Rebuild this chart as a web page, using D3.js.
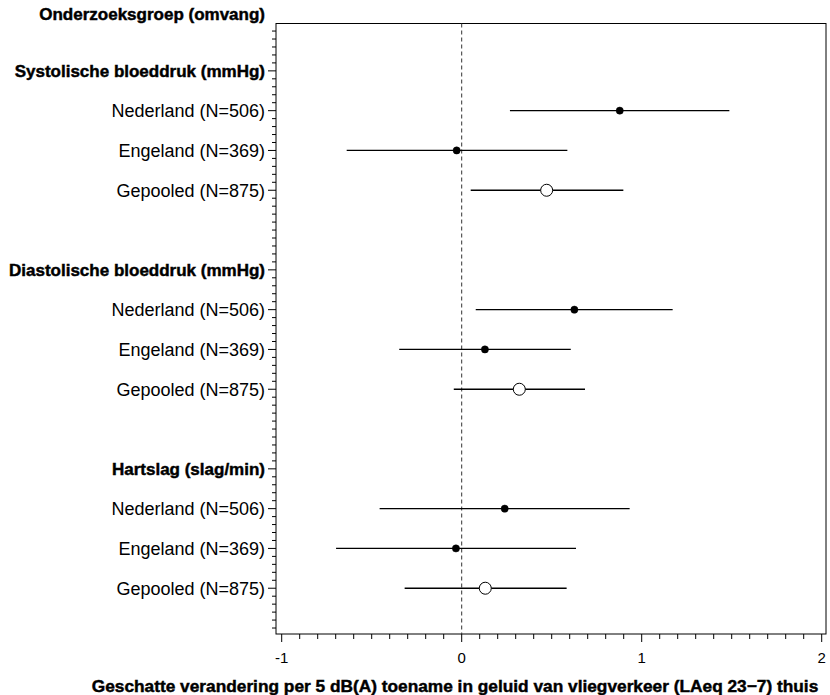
<!DOCTYPE html>
<html>
<head>
<meta charset="utf-8">
<script src="https://cdn.jsdelivr.net/npm/d3@7"></script>
<style>
  body { margin: 0; background: #fff; }
  svg { display: block; }
  text { font-family: "Liberation Sans", Arial, Helvetica, sans-serif; fill: #000; }
  .head { font-weight: bold; font-size: 17px; stroke: #000; stroke-width: 0.45px; }
  .xtitle { font-size: 17.3px; }
  .lab { font-size: 18px; }
  .tick { font-size: 15px; }
</style>
</head>
<body>
<svg id="chart" width="830" height="695"></svg>
<script>
// ---- data ----
const titleTop = "Onderzoeksgroep (omvang)";
const xTitle = "Geschatte verandering per 5 dB(A) toename in geluid van vliegverkeer (LAeq 23\u22127) thuis";
const groups = ["Systolische bloeddruk (mmHg)", "Diastolische bloeddruk (mmHg)", "Hartslag (slag/min)"];
const subgroups = ["Nederland (N=506)", "Engeland (N=369)", "Gepooled (N=875)"];
const pooled = [false, false, true];
// estimates and 95% CI, order: group x subgroup
const estimate = [0.878, -0.028, 0.472,  0.626, 0.129, 0.320,  0.239, -0.032, 0.131];
const lower    = [0.268, -0.639, 0.050,  0.078, -0.347, -0.044, -0.456, -0.698, -0.317];
const upper    = [1.487,  0.587, 0.898,  1.172, 0.606, 0.685,  0.933,  0.635,  0.583];
const xTicks = [-1, 0, 1, 2];
const xTickLabels = ["-1", "0", "1", "2"];

// ---- layout ----
const svg = d3.select("#chart");
const pLeft = 276, pRight = 826, pTop = 23.5, pBottom = 634;

const x = d3.scaleLinear().domain([-1, 2]).range([281.7, 821.7]);
// rows: category order, one row per line in the list (blank rows between groups)
const rowKeys = ["_start"];
groups.forEach((g, gi) => {
  rowKeys.push("G" + gi);
  subgroups.forEach((s, si) => rowKeys.push("G" + gi + "S" + si));
  rowKeys.push("_gap" + gi);
});
const rowIndex = k => rowKeys.indexOf(k);
const y = d3.scaleLinear().domain([-0.19, 15.15]).range([pTop, pBottom]);

// records
const records = [];
groups.forEach((g, gi) => subgroups.forEach((s, si) => {
  const i = gi * subgroups.length + si;
  records.push({ label: s, est: estimate[i], lo: lower[i], hi: upper[i], pooled: pooled[si], row: rowIndex("G" + gi + "S" + si) });
}));

// frame
svg.append("rect").attr("x", pLeft).attr("y", pTop).attr("width", pRight - pLeft).attr("height", pBottom - pTop)
  .attr("fill", "none").attr("stroke", "#000").attr("stroke-width", 1);

// zero reference line
svg.append("line").attr("x1", x(0)).attr("x2", x(0)).attr("y1", pTop).attr("y2", pBottom)
  .attr("stroke", "#333").attr("stroke-width", 1).attr("stroke-dasharray", "4,3");

// x axis
const minorX = d3.range(-10, 21).map(d => d / 10);
const gx = svg.append("g");
gx.selectAll("line").data(minorX).join("line")
  .attr("x1", d => x(d)).attr("x2", d => x(d))
  .attr("y1", pBottom).attr("y2", d => pBottom + (Math.abs(d - Math.round(d)) < 1e-9 ? 8 : 5))
  .attr("stroke", "#000").attr("stroke-width", 1);
gx.selectAll("text").data(xTicks).join("text")
  .attr("class", "tick").attr("x", d => x(d)).attr("y", 657 + 5.5)
  .attr("text-anchor", "middle").text((d, i) => xTickLabels[i]);

// y axis ticks
const labelledRows = [];
groups.forEach((g, gi) => {
  labelledRows.push(rowIndex("G" + gi));
  subgroups.forEach((s, si) => labelledRows.push(rowIndex("G" + gi + "S" + si)));
});
labelledRows.push(rowKeys.length);
const minorY = d3.range(0, 76).map(d => d / 5);
svg.append("g").selectAll("line").data(minorY).join("line")
  .attr("y1", d => y(d)).attr("y2", d => y(d))
  .attr("x1", pLeft).attr("x2", d => pLeft - (labelledRows.some(r => Math.abs(r - d) < 1e-9) ? 8 : 4))
  .attr("stroke", "#000").attr("stroke-width", 1);

// row labels
svg.append("text").attr("class", "head").attr("x", 265).attr("y", 14 + 6)
  .attr("text-anchor", "end").text(titleTop);
groups.forEach((g, gi) => {
  svg.append("text").attr("class", "head").attr("x", 265).attr("y", y(rowIndex("G" + gi)) + 6)
    .attr("text-anchor", "end").text(g);
});
svg.append("g").selectAll("text").data(records).join("text")
  .attr("class", "lab").attr("x", 265).attr("y", d => y(d.row) + 6.5)
  .attr("text-anchor", "end").text(d => d.label);

// CI lines
svg.append("g").selectAll("line").data(records).join("line")
  .attr("x1", d => x(d.lo)).attr("x2", d => x(d.hi))
  .attr("y1", d => y(d.row)).attr("y2", d => y(d.row))
  .attr("stroke", "#000").attr("stroke-width", 1.3);

// point estimates
svg.append("g").selectAll("circle").data(records).join("circle")
  .attr("cx", d => x(d.est)).attr("cy", d => y(d.row))
  .attr("r", d => d.pooled ? 6 : 3.6)
  .attr("fill", d => d.pooled ? "#fff" : "#000")
  .attr("stroke", "#000").attr("stroke-width", d => d.pooled ? 1 : 0.5);

// x title
svg.append("text").attr("class", "head xtitle").attr("x", 455).attr("y", 686 + 6)
  .attr("text-anchor", "middle").text(xTitle);
</script>
</body>
</html>
